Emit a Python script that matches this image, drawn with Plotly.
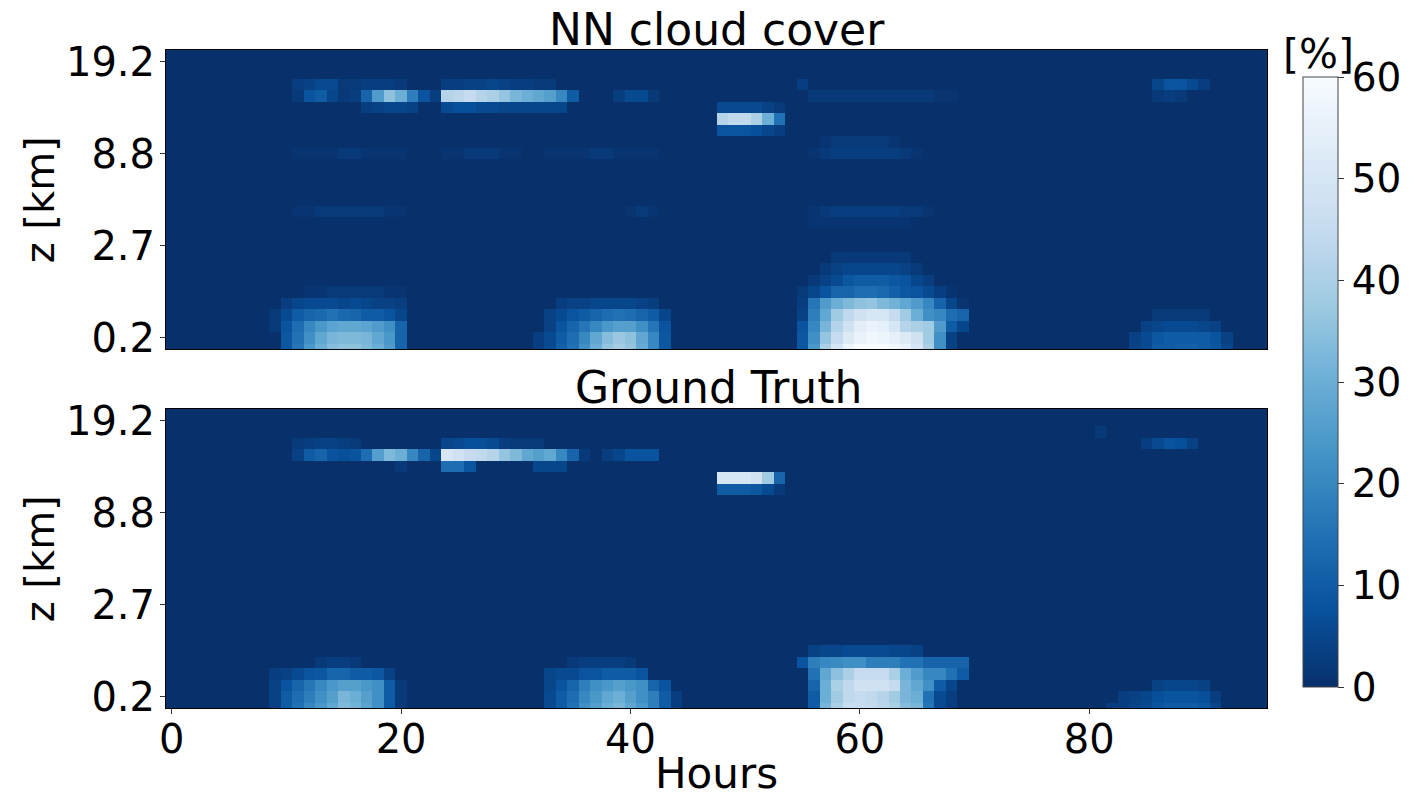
import numpy as np
import plotly.graph_objects as go
import plotly.colors as pc

# ---------------- data ----------------
HOURS = list(range(96))            # columns (hours)
LEVEL_ROWS = list(range(27))       # vertical level index (row 1 = 0.2 km ... row 25 = 19.2 km)
Y_TICK_ROWS = [1, 9, 17, 25]
Y_TICK_LABELS = ["0.2", "2.7", "8.8", "19.2"]
X_TICKS = [0, 20, 40, 60, 80]
CBAR_TICKS = [0, 10, 20, 30, 40, 50, 60]

# each entry: (level row, first hour, cloud cover values [%] for consecutive hours)
NN_HIGH = [
    (23, 11, [3, 4, 6, 6, 2, 2, 3, 3, 3, 2]),
    (23, 24, [3, 3, 4, 4, 5, 4, 3, 3, 2, 2]),
    (22, 11, [2, 8, 10, 5, 2, 3, 12, 25, 35, 30, 18, 8, 3, 42, 43, 45, 42, 40, 36, 32, 30, 28, 26, 20, 10]),
    (22, 39, [3, 6, 6, 2]),
    (21, 17, [3, 4, 5, 5, 4]),
    (21, 24, [6, 7, 7, 6, 6, 5, 5, 5, 5, 5, 5]),
    (21, 48, [6, 6, 6, 6, 4, 2]),
    (20, 48, [42, 44, 44, 40, 30, 15]),
    (19, 48, [8, 8, 8, 7, 5, 3]),
    (23, 55, [3]),
    (22, 56, [2, 2, 2, 2, 2, 2, 2, 2, 2, 2, 2, 1, 1]),
    (23, 86, [5, 8, 8, 6, 3]),
    (22, 86, [2, 3, 2]),
]
NN_MID = [
    (18, 57, [1, 2, 2, 2, 2, 2, 1]),
    (17, 11, [1, 1, 1, 1, 2, 2, 1, 1, 1, 1]),
    (17, 24, [1, 1, 2, 2, 2, 1, 1]),
    (17, 33, [1, 1, 1, 1, 2, 2, 1, 1, 1, 1]),
    (17, 56, [1, 2, 3, 3, 3, 3, 3, 3, 2, 1]),
    (12, 11, [1, 1, 2, 2, 2, 2, 2, 2, 1, 1]),
    (12, 40, [1, 2, 1]),
    (12, 56, [1, 2, 3, 3, 3, 3, 3, 3, 2, 2, 1]),
    (11, 56, [1, 1, 1, 1, 1, 1, 1, 1, 1]),
]
NN_LOW = [
    (5, 12, [1, 1, 2, 2, 2, 2, 2, 1, 1]),
    (4, 10, [3, 5, 6, 6, 6, 5, 6, 5, 4, 4, 3]),
    (3, 9, [2, 6, 10, 12, 13, 15, 13, 12, 10, 10, 8, 5]),
    (2, 9, [2, 8, 14, 20, 24, 27, 28, 28, 27, 25, 22, 12]),
    (1, 10, [9, 15, 22, 28, 32, 33, 33, 32, 28, 24, 12]),
    (0, 10, [9, 16, 24, 30, 34, 35, 35, 33, 30, 25, 12]),
    (4, 34, [3, 4, 4, 5, 5, 5, 5, 4, 3]),
    (3, 33, [4, 6, 8, 10, 12, 14, 15, 14, 12, 10, 5]),
    (2, 33, [4, 8, 12, 16, 20, 24, 26, 26, 22, 16, 8]),
    (1, 32, [3, 6, 10, 14, 20, 28, 34, 37, 35, 28, 20, 9]),
    (0, 32, [3, 6, 11, 15, 22, 30, 36, 39, 36, 29, 20, 9]),
    (8, 58, [2, 2, 2, 2, 2, 2, 2]),
    (7, 57, [2, 4, 5, 5, 5, 5, 5, 4, 2]),
    (6, 56, [2, 4, 6, 9, 10, 10, 10, 9, 8, 5, 3]),
    (5, 55, [2, 5, 8, 12, 12, 14, 14, 13, 11, 9, 8, 6, 3, 1]),
    (4, 55, [3, 16, 25, 30, 33, 35, 36, 33, 31, 28, 25, 20, 12, 5, 1]),
    (3, 55, [4, 18, 28, 38, 44, 48, 50, 50, 45, 38, 30, 22, 20, 14, 12]),
    (2, 55, [8, 20, 32, 42, 48, 54, 56, 55, 50, 42, 40, 38, 25, 10, 5]),
    (1, 55, [9, 22, 36, 45, 52, 56, 58, 57, 55, 52, 48, 38, 22, 4]),
    (0, 55, [9, 24, 40, 50, 57, 60, 60, 60, 58, 56, 50, 40, 22, 4]),
    (3, 86, [2, 2, 2, 2, 2]),
    (2, 85, [4, 5, 6, 6, 6, 5, 4]),
    (1, 84, [4, 6, 9, 10, 10, 10, 10, 8, 4]),
    (0, 84, [4, 6, 10, 10, 11, 11, 10, 9, 5]),
]

GT_HIGH = [
    (23, 11, [2, 3, 4, 4, 3, 2]),
    (23, 24, [5, 6, 7, 7, 6, 3, 2, 2, 2]),
    (22, 11, [4, 10, 12, 8, 7, 8, 14, 26, 33, 30, 20, 12, 5, 50, 48, 45, 44, 42, 36, 33, 28, 26, 28, 20, 12, 2]),
    (22, 38, [3, 5, 8, 8, 8]),
    (21, 20, [2]),
    (21, 24, [14, 14, 8]),
    (21, 32, [5, 5, 5]),
    (20, 48, [50, 50, 50, 48, 38, 12]),
    (19, 48, [10, 10, 10, 9, 6, 2]),
    (24, 81, [2]),
    (23, 85, [3, 6, 8, 7, 4]),
]
GT_LOW = [
    (4, 13, [2, 3, 3, 2]),
    (3, 9, [3, 4, 6, 8, 9, 12, 12, 10, 10, 9, 4]),
    (2, 9, [4, 8, 12, 16, 20, 24, 26, 26, 24, 22, 10, 2]),
    (1, 9, [4, 10, 14, 18, 22, 26, 32, 30, 26, 22, 10, 2]),
    (0, 9, [4, 10, 15, 20, 24, 28, 33, 31, 27, 22, 10, 2]),
    (4, 35, [2, 3, 3, 3, 3, 2]),
    (3, 33, [5, 6, 6, 8, 8, 10, 10, 10, 8]),
    (2, 33, [5, 8, 12, 18, 22, 24, 26, 24, 22, 12, 8]),
    (1, 33, [6, 10, 14, 20, 24, 28, 30, 26, 22, 18, 10, 3]),
    (0, 33, [6, 10, 15, 22, 26, 30, 32, 28, 24, 18, 10, 3]),
    (5, 56, [4, 5, 5, 6, 6, 6, 6, 5, 5, 4]),
    (4, 55, [8, 18, 20, 21, 22, 22, 18, 18, 18, 15, 15, 12, 12, 12, 12]),
    (3, 56, [15, 28, 35, 40, 45, 45, 45, 40, 30, 25, 20, 20, 15, 10]),
    (2, 56, [12, 30, 40, 44, 48, 48, 48, 45, 32, 28, 22, 10, 5]),
    (1, 56, [10, 30, 38, 44, 45, 44, 42, 38, 32, 30, 15, 6, 3]),
    (0, 56, [10, 32, 40, 46, 46, 45, 43, 40, 34, 32, 16, 6, 3]),
    (2, 86, [4, 5, 5, 5, 4]),
    (1, 83, [3, 4, 5, 7, 8, 8, 8, 7, 3]),
    (0, 82, [3, 3, 5, 6, 8, 10, 10, 10, 9, 5]),
]


def build(*segment_lists):
    z = np.zeros((len(LEVEL_ROWS), len(HOURS)))
    for segs in segment_lists:
        for row, start, vals in segs:
            z[row, start:start + len(vals)] = vals
    return z


z_nn = build(NN_HIGH, NN_MID, NN_LOW)
z_gt = build(GT_HIGH, GT_LOW)

# ---------------- figure ----------------
W, H = 1414, 798
ML, MR, MT, MB = 166, 144, 50, 90
PW, PH = W - ML - MR, H - MT - MB


def px(xp):
    return (xp - ML) / PW


def py(yp):
    return (H - MB - yp) / PH


FONT = "DejaVu Sans"
blues_r = pc.sequential.Blues[::-1]

fig = go.Figure()
fig.add_trace(go.Heatmap(x=HOURS, y=LEVEL_ROWS, z=z_nn, coloraxis="coloraxis",
                         xaxis="x", yaxis="y", hoverinfo="skip"))
fig.add_trace(go.Heatmap(x=HOURS, y=LEVEL_ROWS, z=z_gt, coloraxis="coloraxis",
                         xaxis="x2", yaxis="y2", hoverinfo="skip"))

axis_common = dict(showline=True, mirror=True, linecolor="black", linewidth=1,
                   showgrid=False, zeroline=False)
yaxis_common = dict(axis_common, range=[0, 26], tickmode="array", tickvals=Y_TICK_ROWS,
                    ticktext=Y_TICK_LABELS, ticks="outside", ticklen=5, tickwidth=1,
                    tickcolor="#333", ticklabelstandoff=-3,
                    tickfont=dict(family=FONT, size=40, color="black"))

fig.update_layout(
    width=W, height=H,
    margin=dict(l=ML, r=MR, t=MT, b=MB, pad=0),
    paper_bgcolor="white", plot_bgcolor="white",
    font=dict(family=FONT, color="black"),
    xaxis=dict(axis_common, domain=[0, 1], anchor="y", range=[-0.5, 95.5],
               showticklabels=False, ticks=""),
    yaxis=dict(yaxis_common, domain=[py(349), 1], anchor="x"),
    xaxis2=dict(axis_common, domain=[0, 1], anchor="y2", range=[-0.5, 95.5],
                tickmode="array", tickvals=X_TICKS, ticks="outside", ticklen=5,
                tickwidth=1, tickcolor="#333", ticklabelstandoff=-9,
                tickfont=dict(family=FONT, size=40, color="black")),
    yaxis2=dict(yaxis_common, domain=[0, py(409)], anchor="x2"),
    coloraxis=dict(
        colorscale=blues_r, cmin=0, cmax=60,
        colorbar=dict(
            x=px(1306), xanchor="left", xpad=0, ypad=0,
            y=py(77), yanchor="top",
            thickness=35, thicknessmode="pixels",
            len=610, lenmode="pixels",
            outlinewidth=1, outlinecolor="#444",
            tickmode="array", tickvals=CBAR_TICKS,
            ticks="outside", ticklen=6, tickcolor="#333",
            tickfont=dict(family=FONT, size=39, color="black"),
        ),
    ),
    showlegend=False,
)

annotations = [
    dict(text="NN cloud cover", x=px(718), y=py(29), size=44),
    dict(text="Ground Truth", x=px(720), y=py(387), size=44),
    dict(text="Hours", x=px(718), y=py(773), size=42),
    dict(text="[%]", x=px(1322), y=py(54), size=41),
]
for a in annotations:
    fig.add_annotation(text=a["text"], x=a["x"], y=a["y"], xref="paper", yref="paper",
                       xanchor="center", yanchor="middle", showarrow=False,
                       font=dict(family=FONT, size=a["size"], color="black"))
for yc in (200, 559):
    fig.add_annotation(text="z [km]", x=px(40), y=py(yc), xref="paper", yref="paper",
                       xanchor="center", yanchor="middle", showarrow=False, textangle=-90,
                       font=dict(family=FONT, size=40, color="black"))

fig.write_html("out.html")
